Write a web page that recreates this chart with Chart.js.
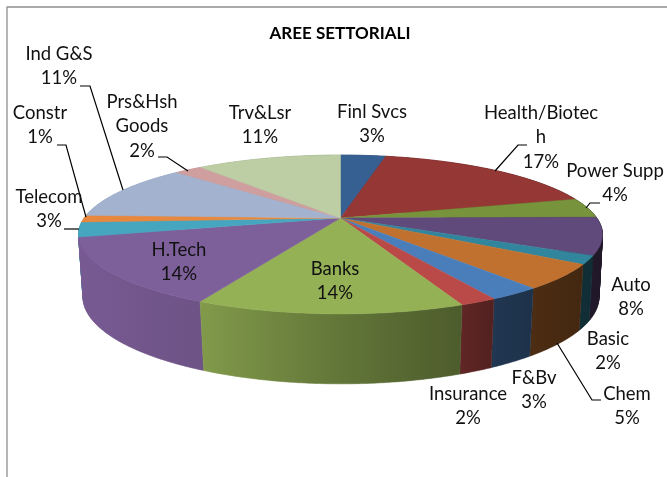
<!DOCTYPE html>
<html>
<head>
<meta charset="utf-8">
<title>AREE SETTORIALI</title>
<script src="https://cdn.jsdelivr.net/npm/chart.js@4"></script>
<style>
  html, body { margin: 0; padding: 0; background: #fff; overflow: hidden; }
  canvas { display: block; }
</style>
</head>
<body>
<canvas id="torta" width="667" height="477"></canvas>
<script>
// ========================
// DATI
// ========================
const chartTitle = 'AREE SETTORIALI';
const sectorNames = ['Finl Svcs', 'Health/Biotec\nh', 'Power Supp', 'Auto', 'Basic', 'Chem', 'F&Bv', 'Insurance',
    'Banks', 'H.Tech', 'Telecom', 'Constr', 'Ind G&S', 'Prs&Hsh\nGoods', 'Trv&Lsr'];
const sectorValues = [3.4, 17.4, 4.0, 7.6, 1.7, 5.0, 2.7, 1.9, 13.6, 13.8, 3.0, 1.4, 11.4, 2.1, 10.9];
const sectorColors = ['#376092', '#953735', '#77933C', '#604A7B', '#31859C', '#C0712F', '#4A7EBB', '#B94A48',
    '#94B155', '#7D5F9A', '#46A5BF', '#E8883F', '#A2B2CF', '#CF9F9F', '#BDCEA5'];

// ========================
// LAYOUT (prospettiva, etichette, linee guida)
// ========================
const topRim = { cx: 340.5, cy: 218, a: 256.3, b: 76, p: 0.2076 };
const bottomRim = { cx: 341, cy: 279.5, a: 252.8, b: 83.5, p: 0.2 };

// luce delle pareti da sinistra (x=78) a destra (x=603)
const wallShade = [[0, 0.95], [0.234, 0.87], [0.49, 0.67], [0.73, 0.52], [0.8, 0.43], [1, 0.33]];

// centro x e y della prima riga di ogni etichetta
const labelPos = [[372, 112], [541, 113], [615, 171], [631, 285], [608, 339], [627, 394], [534, 378], [468, 394],
    [335, 269], [179, 250], [49, 197], [40, 113], [59, 54], [142, 102], [260, 113]];
const labelLineHeight = 24.5;

const leaderLines = [
    [[80, 86], [90, 86], [123, 190]],
    [[57, 145], [66, 145], [86, 217]],
    [[64, 229], [79, 229]],
    [[158, 157], [167, 157], [188, 171]],
    [[527, 145], [518, 145], [495, 171]],
    [[600, 203], [590, 203], [586, 208]],
    [[601, 400], [592, 400], [557, 343]]
];

// ========================
// DISEGNO DELLA TORTA 3D
// ========================
function project(rim, angle) {
    const u = Math.sin(angle);
    const v = -Math.cos(angle);
    const w = 1 - rim.p * v;
    return [rim.cx + rim.a * u / w, rim.cy + rim.b * v / w];
}

function rimPoints(rim, from, to) {
    const steps = Math.max(2, Math.ceil((to - from) / 0.01));
    const pts = [];
    for (let i = 0; i <= steps; i++) {
        pts.push(project(rim, from + (to - from) * i / steps));
    }
    return pts;
}

function addPolygon(ctx, pts) {
    pts.forEach((p, i) => i ? ctx.lineTo(p[0], p[1]) : ctx.moveTo(p[0], p[1]));
    ctx.closePath();
}

function tracePath(ctx, pts) {
    ctx.beginPath();
    addPolygon(ctx, pts);
}

// stesso verso per tutte le strisce, altrimenti nel path si annullano a vicenda
function signedArea(pts) {
    let sum = 0;
    pts.forEach((p, i) => {
        const q = pts[(i + 1) % pts.length];
        sum += p[0] * q[1] - q[0] * p[1];
    });
    return sum;
}

function shadeColor(hex, k) {
    const n = parseInt(hex.slice(1), 16);
    return 'rgb(' + Math.round((n >> 16) * k) + ',' + Math.round(((n >> 8) & 255) * k) + ',' + Math.round((n & 255) * k) + ')';
}

function wallGradient(ctx, hex) {
    const g = ctx.createLinearGradient(78, 0, 603, 0);
    wallShade.forEach(s => g.addColorStop(s[0], shadeColor(hex, s[1])));
    return g;
}

const pie3d = {
    id: 'pie3d',
    beforeDatasetsDraw(chart) {
        const ctx = chart.ctx;
        // gli angoli di ogni fetta vengono dagli archi calcolati da Chart.js
        const slices = chart.getDatasetMeta(0).data.map((arc, i) => ({
            from: arc.startAngle + Math.PI / 2,
            to: arc.endAngle + Math.PI / 2,
            color: sectorColors[i]
        }));

        ctx.save();
        ctx.lineJoin = 'round';

        // cornice
        ctx.strokeStyle = '#8f8f8f';
        ctx.lineWidth = 1.3;
        ctx.beginPath();
        ctx.moveTo(7, 480);
        ctx.lineTo(7, 7);
        ctx.lineTo(670, 7);
        ctx.stroke();

        // pareti, dal fondo verso il davanti (a strisce, il bordo sporge ai lati)
        const order = slices.slice().sort((a, b) => Math.cos(b.from / 2 + b.to / 2) - Math.cos(a.from / 2 + a.to / 2));
        order.forEach(s => {
            const up = rimPoints(topRim, s.from, s.to);
            const down = rimPoints(bottomRim, s.from, s.to);
            const fill = wallGradient(ctx, s.color);
            ctx.beginPath();
            for (let i = 0; i < up.length - 1; i++) {
                const quad = [up[i], up[i + 1], down[i + 1], down[i]];
                addPolygon(ctx, signedArea(quad) < 0 ? quad.reverse() : quad);
            }
            ctx.fillStyle = fill;
            ctx.strokeStyle = fill;
            ctx.lineWidth = 0.5;
            ctx.fill();
            ctx.stroke();
        });

        // faccia superiore
        slices.forEach(s => {
            tracePath(ctx, [[topRim.cx, topRim.cy]].concat(rimPoints(topRim, s.from, s.to)));
            ctx.fillStyle = s.color;
            ctx.strokeStyle = s.color;
            ctx.lineWidth = 0.5;
            ctx.fill();
            ctx.stroke();
        });

        ctx.restore();
        return false; // gli archi piatti non servono
    },
    afterDraw(chart) {
        const ctx = chart.ctx;
        const total = sectorValues.reduce((a, b) => a + b, 0);

        ctx.save();
        ctx.strokeStyle = '#000';
        ctx.lineWidth = 1.2;
        leaderLines.forEach(line => {
            ctx.beginPath();
            line.forEach((p, i) => i ? ctx.lineTo(p[0], p[1]) : ctx.moveTo(p[0], p[1]));
            ctx.stroke();
        });

        ctx.fillStyle = '#111';
        ctx.font = '18.5px Lato';
        ctx.textAlign = 'center';
        ctx.textBaseline = 'middle';
        sectorNames.forEach((name, i) => {
            const lines = name.split('\n').concat(Math.round(sectorValues[i] / total * 100) + '%');
            lines.forEach((txt, j) => {
                ctx.fillText(txt, labelPos[i][0], labelPos[i][1] + j * labelLineHeight);
            });
        });
        ctx.restore();
    }
};

// ========================
// INICIALIZZAZIONE
// ========================
new Chart(document.getElementById('torta'), {
    type: 'pie',
    data: {
        labels: sectorNames,
        datasets: [{
            data: sectorValues,
            backgroundColor: sectorColors,
            borderWidth: 0
        }]
    },
    options: {
        responsive: false,
        animation: false,
        layout: { padding: { left: 13 } },
        plugins: {
            legend: { display: false },
            tooltip: { enabled: false },
            title: {
                display: true,
                text: chartTitle,
                color: '#000',
                font: { family: 'Lato', size: 17, weight: 'bold' },
                padding: { top: 23, bottom: 10 }
            }
        }
    },
    plugins: [pie3d]
});
</script>
</body>
</html>
